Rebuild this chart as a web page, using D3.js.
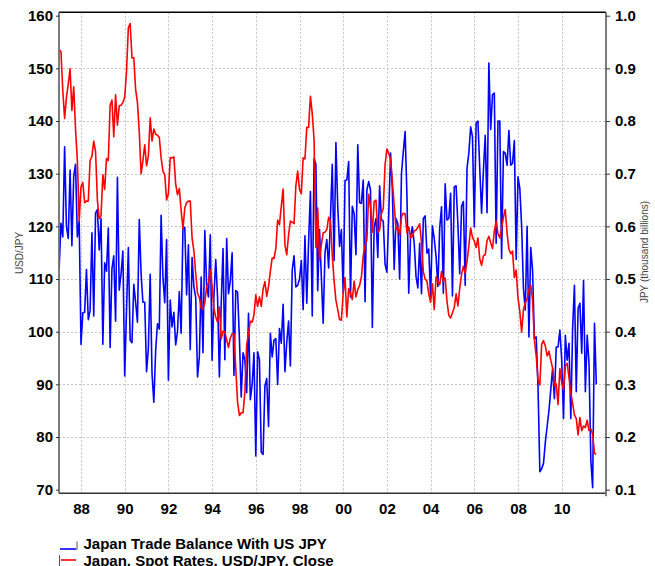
<!DOCTYPE html>
<html><head><meta charset="utf-8">
<script src="https://cdn.jsdelivr.net/npm/d3@7/dist/d3.min.js"></script>
<style>
body{margin:0;background:#fff;}
svg{display:block;font-family:"Liberation Sans",Arial,Helvetica,sans-serif;}
</style>
</head><body>
<svg id="chart" width="655" height="566"></svg>
<script>
// Monthly data, first observation January 1987
const startYear = 1987;
const spotRate = [
153.5,153.2,145.8,140.5,144.5,147.0,149.9,142.0,146.5,138.5,132.5,121.0,
127.5,128.3,124.5,124.8,124.8,132.5,133.3,136.2,134.2,125.0,121.5,122.0,
129.8,127.0,132.9,132.5,143.0,144.0,137.0,145.0,139.2,142.9,143.0,143.5,
144.5,149.4,157.7,158.5,152.0,152.0,146.0,143.5,137.9,130.0,132.5,135.5,
131.5,133.4,140.6,136.2,138.5,137.5,137.3,136.9,133.0,130.5,129.8,125.0,
126.2,133.0,133.0,133.2,128.0,126.0,127.2,123.0,119.5,123.5,124.5,124.8,
124.8,117.8,115.3,111.0,107.3,106.5,104.5,104.3,105.5,108.6,109.2,111.8,
108.6,104.3,102.8,101.8,104.7,98.6,100.1,100.0,98.5,97.0,98.8,99.6,
99.6,93.0,86.6,84.1,84.6,84.6,88.5,97.6,99.7,102.0,101.8,103.2,
107.0,104.8,106.6,104.8,108.1,109.5,106.7,108.6,111.5,114.0,113.9,115.8,
121.2,120.3,123.8,127.1,116.5,114.6,118.4,121.0,120.8,120.5,127.7,130.5,
127.0,126.2,133.0,132.8,138.8,138.8,144.7,141.4,136.5,116.0,123.5,113.6,
116.5,118.8,118.9,119.4,121.7,121.0,114.5,109.6,106.0,104.2,102.3,102.2,
107.3,110.3,102.8,108.2,107.3,106.1,109.6,106.6,108.0,108.8,110.4,114.4,
116.4,117.4,126.1,123.7,118.9,124.7,125.0,118.9,119.3,122.4,123.4,131.7,
134.7,133.9,132.7,128.5,124.0,119.4,119.8,118.3,121.8,122.5,122.4,118.8,
119.9,117.8,118.1,119.1,119.3,119.8,120.5,116.9,111.4,110.0,109.6,107.2,
105.6,109.1,104.2,110.4,109.6,108.9,111.4,109.6,110.2,105.8,103.1,102.6,
103.6,104.6,107.2,104.9,108.2,110.9,112.4,111.1,113.3,116.3,119.7,117.9,
117.2,116.0,117.8,113.8,112.6,114.4,114.6,117.3,118.1,116.9,115.8,119.1,
121.0,118.6,117.8,119.6,121.7,123.2,118.7,115.7,114.8,115.3,110.3,111.7,
106.4,103.8,99.9,104.2,105.5,106.2,107.9,108.8,106.0,98.4,95.4,90.8,
89.9,97.6,98.3,97.3,95.4,96.3,94.6,93.1,89.7,90.1,86.2,93.0,
90.3,89.0,93.5,94.0,91.3,88.4,86.4,84.2,83.5,80.4,83.7,81.2,
82.1,81.8,83.2,81.2,81.5,80.6,76.9,76.7
];
const tradeBalance = [
0.52,0.606,0.58,0.751,0.60,0.577,0.707,0.563,0.695,0.718,0.58,0.61,
0.376,0.436,0.437,0.518,0.423,0.44,0.588,0.43,0.625,0.632,0.555,0.615,
0.376,0.531,0.515,0.597,0.37,0.52,0.544,0.42,0.693,0.479,0.51,0.553,
0.316,0.44,0.56,0.384,0.379,0.49,0.456,0.418,0.613,0.51,0.456,0.456,
0.324,0.368,0.509,0.321,0.266,0.364,0.415,0.405,0.621,0.503,0.455,0.575,
0.308,0.46,0.409,0.437,0.375,0.4,0.476,0.397,0.599,0.598,0.47,0.565,
0.366,0.541,0.485,0.465,0.314,0.352,0.504,0.36,0.592,0.487,0.466,0.584,
0.346,0.466,0.537,0.466,0.314,0.454,0.558,0.347,0.577,0.472,0.497,0.55,
0.317,0.478,0.475,0.387,0.276,0.36,0.347,0.284,0.435,0.271,0.3,0.36,
0.164,0.362,0.347,0.171,0.167,0.297,0.311,0.22,0.397,0.352,0.384,0.387,
0.3,0.406,0.378,0.452,0.324,0.38,0.42,0.335,0.517,0.544,0.485,0.488,
0.5,0.535,0.442,0.582,0.454,0.571,0.666,0.43,0.729,0.718,0.478,0.594,
0.505,0.416,0.55,0.575,0.521,0.617,0.718,0.535,0.759,0.638,0.562,0.594,
0.473,0.687,0.688,0.723,0.466,0.638,0.624,0.546,0.755,0.645,0.644,0.688,
0.457,0.669,0.685,0.669,0.408,0.599,0.615,0.541,0.677,0.613,0.61,0.528,
0.513,0.62,0.739,0.669,0.518,0.615,0.605,0.5,0.7,0.741,0.78,0.66,
0.473,0.581,0.599,0.568,0.505,0.483,0.568,0.472,0.615,0.62,0.549,0.557,
0.466,0.601,0.577,0.543,0.486,0.597,0.637,0.473,0.681,0.612,0.615,0.663,
0.468,0.675,0.677,0.603,0.51,0.638,0.647,0.488,0.71,0.739,0.789,0.77,
0.599,0.796,0.8,0.71,0.625,0.706,0.773,0.626,0.91,0.784,0.85,0.853,
0.568,0.8,0.8,0.539,0.742,0.739,0.716,0.782,0.716,0.72,0.763,0.537,
0.694,0.672,0.6,0.482,0.441,0.6,0.39,0.56,0.517,0.387,0.39,0.295,
0.134,0.14,0.15,0.19,0.22,0.25,0.29,0.33,0.273,0.371,0.371,0.403,
0.347,0.235,0.393,0.346,0.378,0.235,0.406,0.488,0.286,0.444,0.454,0.359,
0.497,0.286,0.393,0.34,0.156,0.104,0.416,0.3
];
const xTickYears = [1988,1990,1992,1994,1996,1998,2000,2002,2004,2006,2008,2010];
const xTickLabels = ["88","90","92","94","96","98","00","02","04","06","08","10"];
const leftTicks = [70,80,90,100,110,120,130,140,150,160];
const rightTicks = [0.1,0.2,0.3,0.4,0.5,0.6,0.7,0.8,0.9,1.0];
const seriesNames = ["Japan Trade Balance With US JPY","Japan. Spot Rates, USD/JPY, Close"];
const seriesColors = ["#0000ff","#ff0000"];
const leftTitle = "USD/JPY";
const rightTitle = "JPY (thousand billions)";

const svg = d3.select("#chart");
const L = 59, R = 606, T = 12.3, B = 493.3;

const x = d3.scaleLinear().domain([1987, 2012]).range([59.15, 605.4]);
const yL = d3.scaleLinear().domain([70, 160]).range([489.7, 15.7]);
const yR = d3.scaleLinear().domain([0.1, 1.0]).range([489.7, 15.7]);
const dateOf = i => startYear + i / 12;

// grid
const grid = svg.append("g").attr("stroke", "#c4c4c4").attr("stroke-width", 1).attr("stroke-dasharray", "2,2");
xTickYears.forEach(yv => {
  const px = Math.round(x(yv)) + 0.5;
  grid.append("line").attr("x1", px).attr("x2", px).attr("y1", T).attr("y2", B);
});
leftTicks.filter(v => v > 70 && v < 160).forEach(v => {
  const py = Math.round(yL(v)) + 0.5;
  grid.append("line").attr("x1", L).attr("x2", R).attr("y1", py).attr("y2", py);
});

svg.append("clipPath").attr("id", "clip").append("rect")
  .attr("x", L).attr("y", T).attr("width", R - L).attr("height", B - T);

const plot = svg.append("g").attr("clip-path", "url(#clip)");
const blueLine = d3.line().x((d, i) => x(dateOf(i))).y(d => yR(d));
const redLine = d3.line().x((d, i) => x(dateOf(i))).y(d => yL(d));
plot.append("path").datum(tradeBalance).attr("d", blueLine)
  .attr("fill", "none").attr("stroke", seriesColors[0]).attr("stroke-width", 1.6).attr("stroke-linejoin", "round");
plot.append("path").datum(spotRate).attr("d", redLine)
  .attr("fill", "none").attr("stroke", seriesColors[1]).attr("stroke-width", 1.6).attr("stroke-linejoin", "round");

// frame
svg.append("line").attr("x1", L).attr("x2", R).attr("y1", T).attr("y2", T).attr("stroke", "#000").attr("stroke-width", 1.4);
svg.append("line").attr("x1", L).attr("x2", R).attr("y1", B).attr("y2", B).attr("stroke", "#333").attr("stroke-width", 1.4);
svg.append("line").attr("x1", L).attr("x2", L).attr("y1", T).attr("y2", B).attr("stroke", "#6e6e6e").attr("stroke-width", 1.8);
svg.append("line").attr("x1", R).attr("x2", R).attr("y1", T).attr("y2", B + 3).attr("stroke", "#6e6e6e").attr("stroke-width", 1.8);

// left axis
const gl = svg.append("g").attr("transform", `translate(${L},0)`)
  .call(d3.axisLeft(yL).tickValues(leftTicks).tickSize(3).tickPadding(3).tickFormat(d3.format("d")));
gl.select(".domain").remove();
gl.selectAll(".tick line").attr("stroke", "#333");
gl.selectAll(".tick text").attr("font-size", 15).attr("font-weight", "bold").attr("fill", "#000")
  .attr("font-family", "Liberation Sans, Arial, sans-serif");

// right axis
const gr = svg.append("g").attr("transform", `translate(${R},0)`)
  .call(d3.axisRight(yR).tickValues(rightTicks).tickSize(4).tickPadding(5).tickFormat(d3.format(".1f")));
gr.select(".domain").remove();
gr.selectAll(".tick line").attr("stroke", "#333");
gr.selectAll(".tick text").attr("font-size", 15).attr("font-weight", "bold").attr("fill", "#000")
  .attr("font-family", "Liberation Sans, Arial, sans-serif");

// bottom axis
const gb = svg.append("g").attr("transform", `translate(0,${B})`)
  .call(d3.axisBottom(x).tickValues(xTickYears).tickSize(0).tickPadding(10)
    .tickFormat((d, i) => xTickLabels[i]));
gb.select(".domain").remove();
gb.selectAll(".tick text").attr("font-size", 15).attr("font-weight", "bold").attr("fill", "#000")
  .attr("font-family", "Liberation Sans, Arial, sans-serif");

// axis titles
svg.append("text").attr("transform", "translate(22.5,253) rotate(-90)")
  .attr("text-anchor", "middle").attr("font-size", 10).attr("fill", "#444").text(leftTitle);
svg.append("text").attr("transform", "translate(647.5,252) rotate(-90)")
  .attr("text-anchor", "middle").attr("font-size", 10).attr("fill", "#444").text(rightTitle);

// legend
const lg = svg.append("g");
lg.append("line").attr("x1", 60).attr("x2", 76).attr("y1", 549).attr("y2", 549)
  .attr("stroke", seriesColors[0]).attr("stroke-width", 1.6);
lg.append("line").attr("x1", 77).attr("x2", 77).attr("y1", 541.5).attr("y2", 550)
  .attr("stroke", "#555").attr("stroke-width", 1);
lg.append("text").attr("x", 83.5).attr("y", 548.5).attr("font-size", 15).attr("font-weight", "bold")
  .attr("fill", "#000").text(seriesNames[0]);
lg.append("line").attr("x1", 59.5).attr("x2", 59.5).attr("y1", 555).attr("y2", 566)
  .attr("stroke", "#555").attr("stroke-width", 1);
lg.append("line").attr("x1", 61).attr("x2", 76).attr("y1", 560).attr("y2", 560)
  .attr("stroke", seriesColors[1]).attr("stroke-width", 1.6);
lg.append("text").attr("x", 83.5).attr("y", 566).attr("font-size", 15).attr("font-weight", "bold")
  .attr("fill", "#000").text(seriesNames[1]);
</script>
</body></html>
